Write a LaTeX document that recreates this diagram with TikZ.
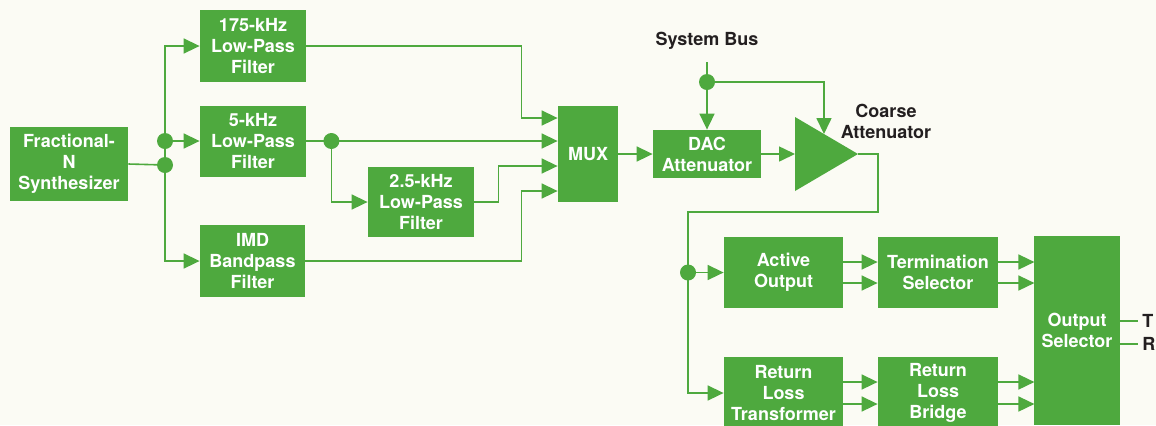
\documentclass[tikz,border=0pt]{standalone}
\usepackage{fontspec}
\setmainfont{TeX Gyre Heros}
\usetikzlibrary{arrows.meta,calc,positioning}
\definecolor{hpgreen}{RGB}{78,169,62}
\definecolor{paper}{RGB}{251,251,244}
\definecolor{ink}{RGB}{35,31,32}

\begin{document}
\begin{tikzpicture}[x=0.5pt, y=-0.5pt,
  blk/.style={fill=hpgreen, text=white, font=\bfseries\fontsize{9}{10.5}\selectfont, align=center, inner sep=0pt},
  lbl/.style={text=ink, font=\bfseries\fontsize{9}{10.5}\selectfont, align=center, inner sep=1pt},
  wire/.style={draw=hpgreen, line width=0.8pt},
  sig/.style={wire, -{Triangle[length=8pt,width=7.5pt]}},
  dot/.style={circle, fill=hpgreen, inner sep=0pt, minimum size=8pt}]
\useasboundingbox (0,0) rectangle (1156,425);
\fill[paper] (0,0) rectangle (1156,425);
\clip (0,0) rectangle (1156,425);

% blocks
\node[blk, minimum width=59pt, minimum height=37pt]   (synth)  at (69,164)    {Fractional-\\N\\Synthesizer};
\node[blk, minimum width=53pt, minimum height=36pt]   (lp175)  at (253,46)    {175-kHz\\Low-Pass\\Filter};
\node[blk, minimum width=53pt, minimum height=35.5pt] (lp5)    at (253,141)   {5-kHz\\Low-Pass\\Filter};
\node[blk, minimum width=52.5pt, minimum height=36pt] (imd)    at (252.5,261) {IMD\\Bandpass\\Filter};
\node[blk, minimum width=53pt, minimum height=35pt]   (lp25)   at (421,202)   {2.5-kHz\\Low-Pass\\Filter};
\node[blk, minimum width=30pt, minimum height=48pt]   (mux)    at (588,154)   {MUX};
\node[blk, minimum width=54pt, minimum height=24pt]   (dac)    at (707,154)   {DAC\\Attenuator};
\node[blk, minimum width=59.5pt, minimum height=35.5pt] (active) at (783.5,272.5) {Active\\Output};
\node[blk, minimum width=60pt, minimum height=35.5pt] (term)   at (938,272.5) {Termination\\Selector};
\node[blk, minimum width=59.5pt, minimum height=36pt] (rlt)    at (783.5,393) {Return\\Loss\\Transformer};
\node[blk, minimum width=60pt, minimum height=36pt]   (rlb)    at (938,393)   {Return\\Loss\\Bridge};
\node[blk, minimum width=43pt, minimum height=94.5pt] (outsel) at (1077,330.5) {Output\\Selector};

% coarse attenuator
\coordinate (coarse a)    at (795,117);
\coordinate (coarse b)    at (795,191);
\coordinate (coarse apex) at (858,154);
\fill[hpgreen] (coarse a) -- (coarse apex) -- (coarse b) -- cycle;
\coordinate (coarse in)  at ($(coarse a)!0.5!(coarse b)$);
\coordinate (coarse top) at ($(coarse a)!0.46!(coarse apex)$);
\node[lbl] (coarse) at (886,121) {Coarse\\Attenuator};

% labels
\node[lbl, inner sep=6pt] (bus)  at (707,41)  {System Bus};
\node[lbl, anchor=west, inner sep=0pt] (tout) at (1142,321) {T};
\node[lbl, anchor=west, inner sep=0pt] (rout) at (1142,344) {R};

% junctions
\node[dot] (j1) at (165,141) {};
\node[dot] (j2) at (165,165) {};
\node[dot] (j3) at ([xshift=12.5pt]lp5.east) {};
\node[dot] (j4) at (707,82) {};
\node[dot] (j5) at (688,272.5) {};

% mux inputs
\coordinate (m1) at ([yshift=18pt]mux.west);
\coordinate (m2) at (mux.west |- j3);
\coordinate (m3) at ([yshift=-6pt]mux.west);
\coordinate (m4) at ([yshift=-18.5pt]mux.west);

% filter section
\draw[wire] (synth.east) -- (j2.center);
\draw[sig] (j2.center) |- (lp175.west);
\draw[sig] (j2.center) |- (imd.west);
\draw[sig] (j1.center) -- (lp5.west);
\draw[wire] (lp5.east) -- (j3.center);
\draw[sig] (j3.center) -- (m2);
\draw[sig] (j3.center) |- (lp25.west);
\draw[sig] (lp175.east) -| ([xshift=-18pt]m1) -- (m1);
\draw[sig] (lp25.east) -- ++(12pt,0pt) |- (m3);
\draw[sig] (imd.east) -| ([xshift=-18pt]m4) -- (m4);

% attenuators
\draw[sig] (mux.east) -- (dac.west);
\draw[wire] (bus.south) -- (j4.center);
\draw[sig] (j4.center) -- (dac.north);
\draw[sig] (j4.center) -| (coarse top);
\draw[sig] (dac.east) -- (coarse in);
\draw[wire] (coarse apex) -- ++(10pt,0pt) -- ++(0pt,-29pt) -| (j5.center);

% output section
\draw[sig] (j5.center) -- (active.west);
\draw[sig] (j5.center) |- (rlt.west);
\foreach \s in {5.25pt,-5.25pt}{
  \draw[sig] ([yshift=\s]active.east) -- ([yshift=\s]term.west);
  \draw[sig] ([yshift=\s]term.east) -- ++(18pt,0pt);
}
\foreach \s in {5.5pt,-5.5pt}{
  \draw[sig] ([yshift=\s]rlt.east) -- ([yshift=\s]rlb.west);
  \draw[sig] ([yshift=\s]rlb.east) -- ++(18pt,0pt);
}
\draw[wire] (outsel.east |- tout) -- ([xshift=-2pt]tout.west);
\draw[wire] (outsel.east |- rout) -- ([xshift=-2pt]rout.west);
\end{tikzpicture}
\end{document}
